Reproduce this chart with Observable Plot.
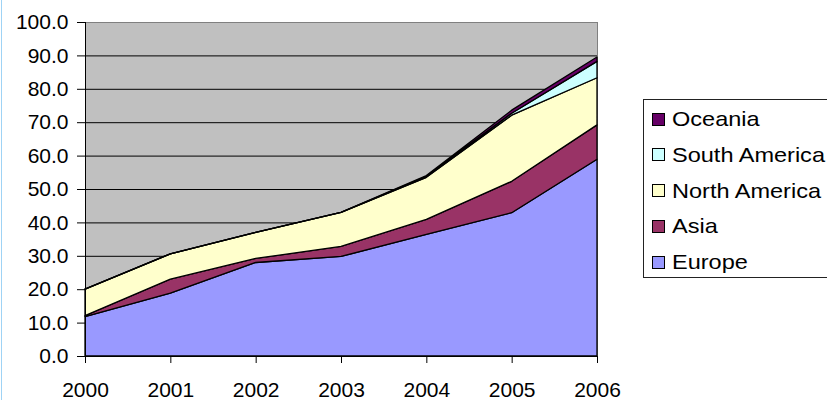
<!DOCTYPE html>
<html>
<head>
<meta charset="utf-8">
<script src="https://cdn.jsdelivr.net/npm/d3@7"></script>
<script src="https://cdn.jsdelivr.net/npm/@observablehq/plot@0.6"></script>
<style>
  html, body { margin: 0; padding: 0; background: #fff; }
  #wrap { position: relative; width: 827px; height: 400px; overflow: hidden; font-family: "Liberation Sans", Arial, sans-serif; }
  #edge { position: absolute; left: 1px; top: 0; width: 1px; height: 400px; background: #9fd3f5; }
  #legend { position: absolute; left: 643px; top: 99px; width: 200px; height: 179px; border: 1px solid #222; background: #fff; box-sizing: border-box; }
  .item { position: absolute; left: 8px; height: 24px; display: flex; align-items: center; font-size: 21px; color: #000; white-space: nowrap; }
  .sw { width: 11px; height: 11px; border: 1px solid #000; margin-right: 7px; flex: none; }
  .lbl { display: inline-block; transform: scaleX(1.12); transform-origin: left center; }
</style>
</head>
<body>
<div id="wrap"><div id="edge"></div><div id="chart"></div><div id="legend"></div></div>
<script>
const years = [2000, 2001, 2002, 2003, 2004, 2005, 2006];
const regions = ["Europe", "Asia", "North America", "South America", "Oceania"];
const colors = ["#9999FF", "#993366", "#FFFFCC", "#CCFFFF", "#660066"];
const europe = [11.8, 18.8, 28.0, 29.8, 36.4, 42.9, 58.9];
const asia = [0.3, 4.2, 1.2, 3.0, 4.5, 9.4, 10.3];
const northAmerica = [7.9, 7.6, 7.8, 10.2, 12.6, 19.8, 14.1];
const southAmerica = [0, 0, 0, 0, 0.3, 0.6, 4.9];
const oceania = [0, 0, 0, 0, 0.2, 0.9, 1.3];
const yTicks = [0, 10, 20, 30, 40, 50, 60, 70, 80, 90, 100];
const gridTicks = [10, 20, 30, 40, 50, 60, 70, 80, 90];

const series = [europe, asia, northAmerica, southAmerica, oceania];
const data = [];
regions.forEach((r, i) => years.forEach((y, j) => data.push({year: y, region: r, value: series[i][j]})));

const chart = Plot.plot({
  width: 827,
  height: 400,
  marginLeft: 85,
  marginRight: 230,
  marginTop: 22,
  marginBottom: 44,
  style: {fontFamily: "Liberation Sans, Arial, sans-serif", fontSize: "21px", color: "#000", background: "transparent"},
  x: {domain: [2000, 2006], label: null},
  y: {domain: [0, 100], label: null},
  color: {domain: regions, range: colors},
  marks: [
    Plot.frame({fill: "#C0C0C0", stroke: "#808080"}),
    Plot.ruleY(gridTicks, {stroke: "#000", strokeWidth: 1}),
    Plot.areaY(data, {x: "year", y: "value", z: "region", fill: "region", stroke: "#000", strokeWidth: 1.3, order: regions}),
    Plot.ruleX([2000], {stroke: "#000", strokeWidth: 1}),
    Plot.ruleY([0], {stroke: "#000", strokeWidth: 1}),
    Plot.axisX({ticks: years, tickFormat: d => String(d), tickSize: 7, tickPadding: 19, stroke: "#000", label: null}),
    Plot.axisY({ticks: yTicks, tickFormat: d3.format(".1f"), tickSize: 8, tickPadding: 9, stroke: "#000", label: null})
  ]
});
document.getElementById("chart").appendChild(chart);

const legend = document.getElementById("legend");
const order = [4, 3, 2, 1, 0];
order.forEach((i, k) => {
  const item = document.createElement("div");
  item.className = "item";
  item.style.top = (7 + k * 35.8) + "px";
  const sw = document.createElement("span");
  sw.className = "sw";
  sw.style.background = colors[i];
  const lbl = document.createElement("span");
  lbl.className = "lbl";
  lbl.textContent = regions[i];
  item.appendChild(sw);
  item.appendChild(lbl);
  legend.appendChild(item);
});
</script>
</body>
</html>
